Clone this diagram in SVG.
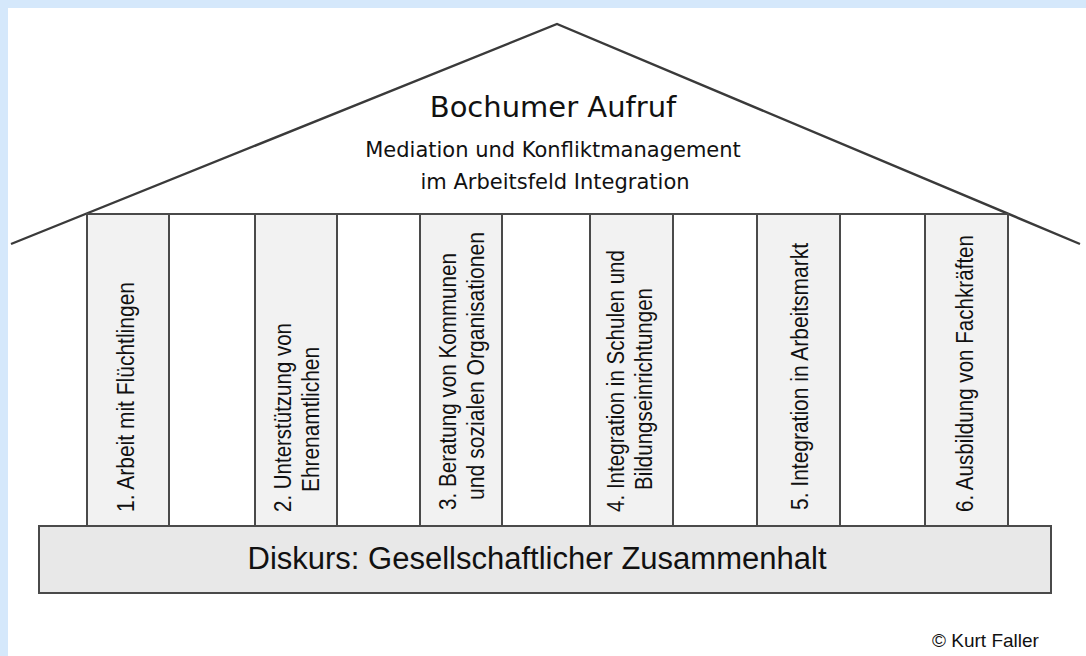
<svg xmlns="http://www.w3.org/2000/svg" width="1086" height="656" viewBox="0 0 1086 656">
  <style>
    .ln { fill: none; stroke: #3a3a3a; stroke-width: 2.4; stroke-linejoin: miter; }
    .box { stroke: #4a4a4a; stroke-width: 2; }
    .pillar { fill: #f2f2f2; }
    .gap { fill: #ffffff; }
    .base { fill: #e8e8e8; }
    .head { font-family: "DejaVu Sans", "Liberation Sans", sans-serif; fill: #111; text-anchor: middle; }
    .pt { font-family: "Liberation Sans", Arial, sans-serif; font-size: 23px; fill: #111; }
    .bt { font-family: "Liberation Sans", Arial, sans-serif; font-size: 31px; fill: #111; text-anchor: middle; }
    .cp { font-family: "Liberation Sans", Arial, sans-serif; font-size: 19px; fill: #111; }
  </style>
  <rect x="0" y="0" width="1086" height="656" fill="#d5e8fb"/>
  <rect x="8" y="8" width="1078" height="648" fill="#ffffff"/>

  <g id="roof">
    <polyline class="ln" points="11,244 557,24 1080,244"/>
    <text class="head" x="553" y="117" font-size="29">Bochumer Aufruf</text>
    <text class="head" x="553" y="157" font-size="21">Mediation und Konfliktmanagement</text>
    <text class="head" x="555" y="189" font-size="21">im Arbeitsfeld Integration</text>
  </g>

  <g id="frame">
    <rect class="box gap" x="87" y="214" width="921" height="312"/>
  </g>

  <g id="pillar1">
    <rect class="box pillar" x="87" y="214" width="82" height="312"/>
    <text class="pt" transform="translate(134,512) rotate(-90)" textLength="230" lengthAdjust="spacingAndGlyphs">1. Arbeit mit Flüchtlingen</text>
  </g>
  <g id="pillar2">
    <rect class="box pillar" x="255" y="214" width="82" height="312"/>
    <text class="pt" transform="translate(291,512) rotate(-90)" textLength="189" lengthAdjust="spacingAndGlyphs">2. Unterstützung von</text>
    <text class="pt" transform="translate(319,492) rotate(-90)" textLength="145" lengthAdjust="spacingAndGlyphs">Ehrenamtlichen</text>
  </g>
  <g id="pillar3">
    <rect class="box pillar" x="420" y="214" width="82" height="312"/>
    <text class="pt" transform="translate(456,510) rotate(-90)" textLength="257" lengthAdjust="spacingAndGlyphs">3. Beratung von Kommunen</text>
    <text class="pt" transform="translate(484,500) rotate(-90)" textLength="268" lengthAdjust="spacingAndGlyphs">und sozialen Organisationen</text>
  </g>
  <g id="pillar4">
    <rect class="box pillar" x="590" y="214" width="83" height="312"/>
    <text class="pt" transform="translate(624,512) rotate(-90)" textLength="262" lengthAdjust="spacingAndGlyphs">4. Integration in Schulen und</text>
    <text class="pt" transform="translate(652,490) rotate(-90)" textLength="202" lengthAdjust="spacingAndGlyphs">Bildungseinrichtungen</text>
  </g>
  <g id="pillar5">
    <rect class="box pillar" x="757" y="214" width="83" height="312"/>
    <text class="pt" transform="translate(808,510) rotate(-90)" textLength="267" lengthAdjust="spacingAndGlyphs">5. Integration in Arbeitsmarkt</text>
  </g>
  <g id="pillar6">
    <rect class="box pillar" x="925" y="214" width="83" height="312"/>
    <text class="pt" transform="translate(973,512) rotate(-90)" textLength="277" lengthAdjust="spacingAndGlyphs">6. Ausbildung von Fachkräften</text>
  </g>

  <g id="base">
    <rect class="box base" x="39" y="526" width="1012" height="67"/>
    <text class="bt" x="537" y="569" textLength="579" lengthAdjust="spacingAndGlyphs">Diskurs: Gesellschaftlicher Zusammenhalt</text>
  </g>

  <g id="connectors"></g>

  <g id="credit">
    <text class="cp" x="932" y="647">© Kurt Faller</text>
  </g>
</svg>
